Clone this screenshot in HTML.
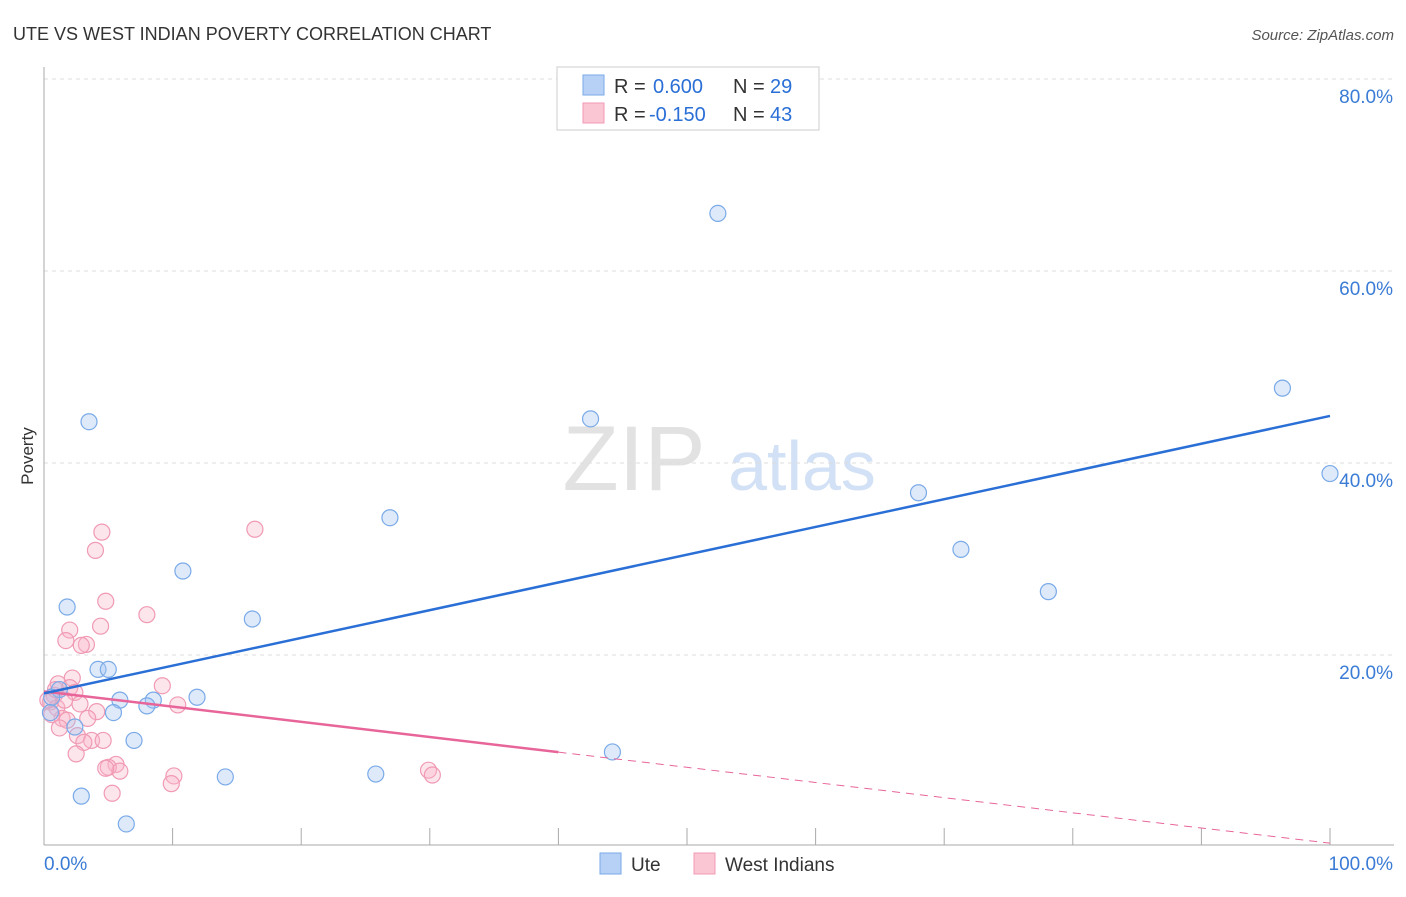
<!DOCTYPE html>
<html><head><meta charset="utf-8"><style>
body{margin:0;background:#fff;font-family:"Liberation Sans",sans-serif}
svg text{font-family:"Liberation Sans",sans-serif}
</style></head><body>
<svg id="c" width="1406" height="892">
<text x="13" y="40" font-size="18" fill="#333">UTE VS WEST INDIAN POVERTY CORRELATION CHART</text>
<text x="1394" y="40" font-size="15" fill="#555" font-style="italic" text-anchor="end">Source: ZipAtlas.com</text>
<text x="33" y="456" font-size="17" fill="#333" transform="rotate(-90 33 456)" text-anchor="middle">Poverty</text>
<text x="634" y="490" font-size="92" fill="#e2e2e2" font-family="Liberation Serif" text-anchor="middle">ZIP</text>
<text x="802" y="490" font-size="70" fill="#d2e1f5" text-anchor="middle">atlas</text>
<g id="grid"></g><g id="marks"></g>
<g>
<rect x="557" y="67" width="262" height="63" fill="#fff" stroke="#ccc"/>
<rect x="583" y="75" width="21" height="20" fill="#b7d0f5" stroke="#7aaae8"/>
<rect x="583" y="103" width="21" height="20" fill="#fac6d4" stroke="#f09ab4"/>
<text x="614" y="93" font-size="20" fill="#333">R =</text>
<text x="653" y="93" font-size="20" fill="#2a6fd6">0.600</text>
<text x="733" y="93" font-size="20" fill="#333">N =</text>
<text x="770" y="93" font-size="20" fill="#2a6fd6">29</text>
<text x="614" y="121" font-size="20" fill="#333">R =</text>
<text x="649" y="121" font-size="20" fill="#2a6fd6">-0.150</text>
<text x="733" y="121" font-size="20" fill="#333">N =</text>
<text x="770" y="121" font-size="20" fill="#2a6fd6">43</text>
</g>
<g>
<rect x="600" y="853" width="21" height="21" fill="#b7d0f5" stroke="#7aaae8"/>
<text x="631" y="871" font-size="19" fill="#333">Ute</text>
<rect x="694" y="853" width="21" height="21" fill="#fac6d4" stroke="#f09ab4"/>
<text x="725" y="871" font-size="19" fill="#333">West Indians</text>
</g>
</svg>
<script>
const yTicks=[20,40,60,80];
const xTickLabels=["0.0%","100.0%"];
const uteX=[3.5,1.8,10.8,26.9,42.5,52.4,68,71.3,78.1,96.3,100,16.2,4.2,5,5.9,8.5,8,11.9,5.4,7,14.1,25.8,44.2,2.9,6.4,1.2,0.6,2.4,0.5];
const uteY=[44.3,25,28.75,34.3,44.6,66,36.9,31,26.6,47.8,38.9,23.75,18.5,18.5,15.3,15.3,14.7,15.6,14,11.1,7.3,7.6,9.9,5.3,2.4,16.4,15.6,12.5,14];
const wiX=[4.5,4,16.4,4.8,8,2,4.4,1.7,3.3,2.9,2.2,1.1,2,2.4,9.2,10.4,0.8,0.5,1,2.8,4.1,3.4,1.4,1.8,0.6,1.2,2.6,3.7,4.6,3.1,2.5,5.6,5,5.9,4.8,10.1,9.9,5.3,29.9,30.2,0.3,0.9,1.6];
const wiY=[32.8,30.9,33.1,25.6,24.2,22.6,23,21.5,21.1,21,17.6,17,16.6,16.1,16.8,14.8,15.8,15.1,14.5,14.9,14.1,13.4,13.4,13.2,13.8,12.4,11.6,11.1,11.1,10.9,9.7,8.6,8.3,7.9,8.2,7.4,6.6,5.6,8,7.5,15.3,16.4,15.3];
const uteLine=[16.0,44.9];
const wiLine=[16.2,0.4];
const X=v=>44+v*12.86, Y=v=>847-v*9.6;
const NS="http://www.w3.org/2000/svg";
function mk(t,a,p){const e=document.createElementNS(NS,t);for(const k in a)e.setAttribute(k,a[k]);p.appendChild(e);return e;}
const g=document.getElementById('grid'),m=document.getElementById('marks');
yTicks.forEach(t=>{
 const l=mk('line',{x1:44,x2:1394,y1:Y(t),y2:Y(t),stroke:'#ddd','stroke-dasharray':'4,4'},g);
 
 
 const tx=mk('text',{x:1393,y:Y(t)+24,'font-size':19,fill:'#3a7bd5','text-anchor':'end'},g);tx.textContent=t.toFixed(1)+'%';
 
 
});
mk('line',{x1:44,x2:44,y1:67,y2:845,stroke:'#aaa'},g);
mk('line',{x1:44,x2:1394,y1:845,y2:845,stroke:'#aaa'},g);
for(let i=1;i<=10;i++){mk('line',{x1:X(i*10),x2:X(i*10),y1:828,y2:845,stroke:'#aaa'},g);}
const t0=mk('text',{x:44,y:870,'font-size':19,fill:'#3a7bd5'},g);t0.textContent=xTickLabels[0];


const t1=mk('text',{x:1393,y:870,'font-size':19,fill:'#3a7bd5','text-anchor':'end'},g);t1.textContent=xTickLabels[1];


wiX.forEach((x,i)=>{const c=mk('circle',{cx:X(x),cy:Y(wiY[i]),r:8,fill:'rgba(248,180,200,0.35)',stroke:'#f09ab4','stroke-width':1.2},m);
 
 });
uteX.forEach((x,i)=>{const c=mk('circle',{cx:X(x),cy:Y(uteY[i]),r:8,fill:'rgba(160,196,240,0.35)',stroke:'#7aaae8','stroke-width':1.2},m);
 
 });
const wm=wiLine[0]+(wiLine[1]-wiLine[0])*0.4;
const p1=mk('line',{x1:X(0),y1:Y(wiLine[0]),x2:X(40),y2:Y(wm),stroke:'#e8659a','stroke-width':2.5},m);


const p2=mk('line',{x1:X(40),y1:Y(wm),x2:X(100),y2:Y(wiLine[1]),stroke:'#e8659a','stroke-width':1,'stroke-dasharray':'8,6'},m);


const b=mk('line',{x1:X(0),y1:Y(uteLine[0]),x2:X(100),y2:Y(uteLine[1]),stroke:'#2a6fd6','stroke-width':2.5},m);


</script>
</body></html>
